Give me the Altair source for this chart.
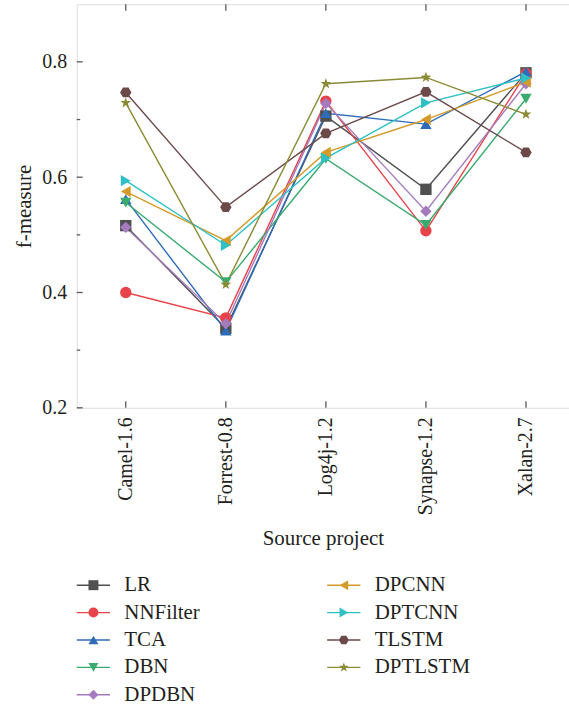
import json
import altair as alt
import pandas as pd

projects = ["Camel-1.6", "Forrest-0.8", "Log4j-1.2", "Synapse-1.2", "Xalan-2.7"]
methods = ["LR", "NNFilter", "TCA", "DBN", "DPDBN", "DPCNN", "DPTCNN", "TLSTM", "DPTLSTM"]

lr = [0.516, 0.338, 0.706, 0.579, 0.781]
nnfilter = [0.400, 0.356, 0.732, 0.507, 0.780]
tca = [0.562, 0.334, 0.711, 0.692, 0.783]
dbn = [0.556, 0.418, 0.632, 0.517, 0.736]
dpdbn = [0.513, 0.346, 0.728, 0.541, 0.762]
dpcnn = [0.575, 0.490, 0.643, 0.700, 0.765]
dptcnn = [0.594, 0.482, 0.633, 0.729, 0.772]
tlstm = [0.747, 0.548, 0.676, 0.748, 0.643]
dptlstm = [0.729, 0.414, 0.762, 0.773, 0.709]
series = [lr, nnfilter, tca, dbn, dpdbn, dpcnn, dptcnn, tlstm, dptlstm]

colors = ["#505050", "#e8434a", "#2e6cb8", "#3aaa6e", "#a47bbd",
          "#d49b2a", "#2ec0c4", "#6d4a4a", "#8b8b35"]
hexagon = "M-1,0L-0.5,-0.866L0.5,-0.866L1,0L0.5,0.866L-0.5,0.866Z"
star = ("M0,-1L0.235,-0.324L0.951,-0.309L0.380,0.124L0.588,0.809L0,0.4"
        "L-0.588,0.809L-0.380,0.124L-0.951,-0.309L-0.235,-0.324Z")
shapes = ["square", "circle", "triangle-up", "triangle-down", "diamond",
          "triangle-left", "triangle-right", hexagon, star]

y_major = [0.2, 0.4, 0.6, 0.8]
y_minor = [0.3, 0.5, 0.7]

rows = []
for m, vals in zip(methods, series):
    for i, v in enumerate(vals):
        rows.append({"method": m, "pi": i, "value": v})
df = pd.DataFrame(rows)

W, H = 494, 405
FONT = "Liberation Serif, DejaVu Serif, serif"
TXT = "#231f20"

x_scale = alt.Scale(domain=[-0.49, 4.43], nice=False, zero=False)
y_scale = alt.Scale(domain=[0.2, 0.9], nice=False, zero=False)
color_scale = alt.Scale(domain=methods, range=colors)
shape_scale = alt.Scale(domain=methods, range=shapes)

label_expr = json.dumps(projects) + "[datum.value]"

x_enc = alt.X("pi:Q", scale=x_scale,
              axis=alt.Axis(values=list(range(len(projects))), labelExpr=label_expr,
                            labelAngle=-90, title="Source project", ticks=False,
                            tickSize=0, domain=False, grid=False, labelPadding=9,
                            titlePadding=13, labelFontSize=20, titleFontSize=21,
                            labelFont=FONT, titleFont=FONT, titleFontWeight="normal",
                            labelColor=TXT, titleColor=TXT))
y_enc = alt.Y("value:Q", scale=y_scale,
              axis=alt.Axis(values=y_major, format=".1f", title="f-measure", ticks=False,
                            tickSize=0, domain=False, grid=False, labelPadding=10,
                            titlePadding=7, labelFontSize=20, titleFontSize=21,
                            labelFont=FONT, titleFont=FONT, titleFontWeight="normal",
                            labelColor=TXT, titleColor=TXT))
color_enc = alt.Color("method:N", scale=color_scale, legend=None)
shape_enc = alt.Shape("method:N", scale=shape_scale, legend=None)

lines = alt.Chart(df).mark_line(strokeWidth=1.4).encode(
    x=x_enc, y=y_enc, color=color_enc, order="pi:Q")
points = alt.Chart(df).mark_point(filled=True, opacity=1, size=130).encode(
    x=x_enc, y=y_enc, color=color_enc, shape=shape_enc)

tick_color = "#595959"
ymaj = alt.Chart(pd.DataFrame({"value": y_major})).mark_rule(color=tick_color, strokeWidth=1.3).encode(
    y=y_enc, x=alt.value(0), x2=alt.value(6))
ymin = alt.Chart(pd.DataFrame({"value": y_minor})).mark_rule(color=tick_color, strokeWidth=1.3).encode(
    y=y_enc, x=alt.value(0), x2=alt.value(3.5))
pdf = pd.DataFrame({"pi": list(range(len(projects)))})
xbot = alt.Chart(pdf).mark_rule(color=tick_color, strokeWidth=1.3).encode(
    x=x_enc, y=alt.value(H), y2=alt.value(H - 6.5))
xtop = alt.Chart(pdf).mark_rule(color=tick_color, strokeWidth=1.3).encode(
    x=x_enc, y=alt.value(0), y2=alt.value(6.5))

main = alt.layer(ymaj, ymin, xbot, xtop, lines, points)

# legend, two columns
leg = pd.DataFrame({
    "method": methods,
    "col": [0, 0, 0, 0, 0, 1, 1, 1, 1],
    "row": [0, 1, 2, 3, 4, 0, 1, 2, 3],
})
leg["l0"] = leg["col"]
leg["l1"] = leg["col"] + 0.133
leg["lm"] = leg["col"] + 0.0667
leg["lt"] = leg["col"] + 0.19

lx = alt.Scale(domain=[0, 1], range=[0, 251.3])
ly = alt.Scale(domain=[0, 4], range=[583, 693])

leg_rule = alt.Chart(leg).mark_rule(strokeWidth=1.4).encode(
    x=alt.X("l0:Q", scale=lx, axis=None), x2="l1:Q",
    y=alt.Y("row:Q", scale=ly, axis=None), color=color_enc)
leg_pt = alt.Chart(leg).mark_point(filled=True, opacity=1, size=100).encode(
    x=alt.X("lm:Q", scale=lx, axis=None), y=alt.Y("row:Q", scale=ly, axis=None),
    color=color_enc, shape=shape_enc)
leg_txt = alt.Chart(leg).mark_text(align="left", baseline="middle", font=FONT,
                                   fontSize=21, color=TXT).encode(
    x=alt.X("lt:Q", scale=lx, axis=None), y=alt.Y("row:Q", scale=ly, axis=None),
    text="method:N")
legend = alt.layer(leg_rule, leg_pt, leg_txt)

chart = alt.layer(main, legend).resolve_scale(x="independent", y="independent").properties(
    width=W, height=H, padding={"left": 14, "top": 2, "right": 0, "bottom": 0}
).configure_view(stroke="#595959", strokeWidth=1.6).configure(background="white")

chart.save("out.html", embed_options={"renderer": "svg", "actions": False})
